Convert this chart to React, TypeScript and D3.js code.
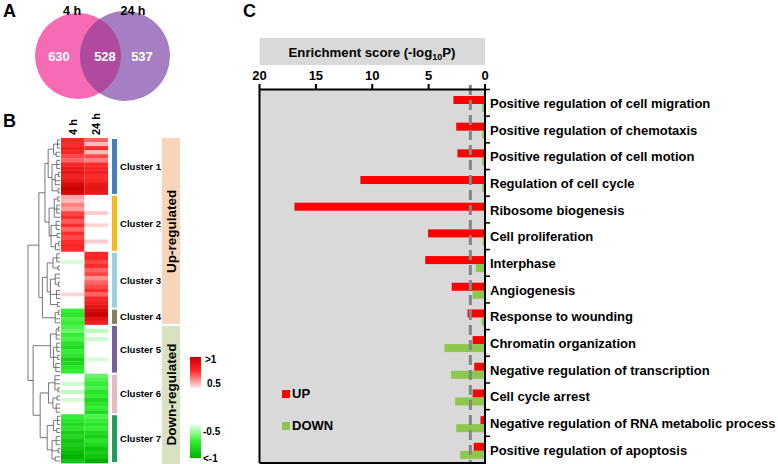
import React from 'react';
import * as d3 from 'd3';

// ---- data ----
const vennSets = ['4 h', '24 h'];
const vennCounts = [630, 528, 537]; // only 4h, both, only 24h

const timepoints = ['4 h', '24 h'];
const clusterNames = ['Cluster 1', 'Cluster 2', 'Cluster 3', 'Cluster 4', 'Cluster 5', 'Cluster 6', 'Cluster 7'];
const clusterColors = ['#4a7dbd', '#f6b91a', '#9fd0e0', '#8a7f5c', '#7b5e9e', '#e5b9bf', '#1e9e5c'];

// log2 fold change per heatmap row, one array per cluster
const h4 = [
  [0.85, 0.8, 0.9, 0.85, 0.75, 0.7, 0.85, 0.95, 1.0, 0.9, 0.95, 1.1, 1.2, 1.1],
  [0.58, 0.55, 0.65, 0.6, 0.75, 0.8, 0.72, 0.8, 0.7, 0.8, 0.75, 0.8, 0.85, 0.8],
  [0, 0, -0.5, 0, 0, 0, 0, 0, 0, 0, 0.5, 0, 0, 0],
  [-0.8, -0.85, -0.75, -0.8],
  [-0.75, -0.7, -0.8, -0.75, -0.85, -0.9, -0.8, -0.85, -0.95, -0.9, -0.85, -0.8],
  [0, 0, -0.52, 0, -0.55, 0, -0.5, 0, 0, 0],
  [-0.8, -0.85, -0.9, -0.85, -0.95, -0.9, -1.0, -0.95, -1.0, -1.05, -1.1, -1.0],
];
const h24 = [
  [0.7, 0.55, 0.8, 0.55, 0.75, 0.65, 0.8, 0.85, 0.9, 0.8, 0.85, 0.95, 1.0, 0.95],
  [0, 0, 0, 0, 0.52, 0, 0, 0.5, 0, 0, 0, 0.52, 0, 0],
  [0.8, 0.85, 0.75, 0.8, 0.7, 0.75, 0.62, 0.7, 0.75, 0.8, 0.7, 0.85, 0.9, 1.0],
  [1.1, 1.2, 1.0, 0.9],
  [0, -0.55, 0, -0.52, 0, 0, 0, 0, -0.5, 0, 0, 0],
  [-0.7, -0.75, -0.8, -0.75, -0.85, -0.8, -0.9, -0.85, -0.8, -0.9],
  [-0.75, -0.8, -0.85, -0.8, -0.9, -0.95, -0.85, -0.9, -1.0, -0.95, -1.0, -1.1],
];

// dendrogram, "(height child child ...)", x = one row
const clusterTrees = [
  '(0.37 (0.2 (0.08 x x x) (0.12 x x)) (0.25 (0.1 x x x) (0.15 (0.05 x x) x x) (0.06 x x)))',
  '(0.34 (0.18 (0.07 x x) (0.1 x x x) x) (0.28 (0.12 x x x) (0.09 x x) (0.14 (0.04 x x) x)))',
  '(0.4 (0.22 (0.1 x x x) (0.06 x x)) (0.3 (0.15 x x (0.05 x x)) (0.11 x x x) (0.08 x x)))',
  '(0.15 (0.05 x x) x x)',
  '(0.3 (0.12 (0.05 x x) x x) (0.2 (0.1 x x x) (0.07 x x) (0.13 x x x)))',
  '(0.36 (0.16 x x x (0.06 x x)) (0.22 (0.09 x x) (0.12 x x x)))',
  '(0.4 (0.2 (0.08 x x x) (0.1 x x)) (0.25 (0.12 x x x) (0.06 x x) (0.15 x x)))',
];
const topTree = '(1.0 (0.66 (0.47 C1 C2) (0.55 C3 C4)) (0.84 C5 (0.62 C6 C7)))';

const goTerms = [
  'Positive regulation of cell migration',
  'Positive regulation of chemotaxis',
  'Positive regulation of cell motion',
  'Regulation of cell cycle',
  'Ribosome biogenesis',
  'Cell proliferation',
  'Interphase',
  'Angiogenesis',
  'Response to wounding',
  'Chromatin organization',
  'Negative regulation of transcription',
  'Cell cycle arrest',
  'Negative regulation of RNA metabolic process',
  'Positive regulation of apoptosis',
];
const upScores = [2.8, 2.55, 2.45, 11.05, 16.9, 5.05, 5.3, 2.95, 1.55, 1.1, 0.95, 1.1, 0.4, 1.0];
const downScores = [0.25, 0.25, 0.25, 0.25, 0.1, 0.2, 0.82, 1.1, 0.3, 3.6, 3.0, 2.65, 2.55, 2.2];
const xTicks = [20, 15, 10, 5, 0];
const pCutoff = 1.3;

const FONT = '"Liberation Sans", Arial, Helvetica, sans-serif';
const UP = '#ff0000';
const DOWN = '#8cc84b';

type TNode = { h: number; leaf?: number; children?: TNode[] };

function parseTree(s: string): TNode {
  const toks = s.match(/\(|\)|[^\s()]+/g) || [];
  let i = 0;
  let leafIdx = 0;
  function read(): TNode {
    const t = toks[i++];
    if (t === '(') {
      const h = +toks[i++];
      const children: TNode[] = [];
      while (toks[i] !== ')') children.push(read());
      i++;
      return { h, children };
    }
    return { h: 0, leaf: leafIdx++ };
  }
  return read();
}

export default function App() {
  // ---- Panel B scales ----
  const counts = h4.map(c => c.length);
  const nRows = d3.sum(counts);
  const starts = counts.map((_, i) => d3.sum(counts.slice(0, i)));
  const rowY = d3.scaleBand<number>().domain(d3.range(nRows)).range([138, 463]);
  const colX = d3.scaleBand<string>().domain(timepoints).range([61, 108]);
  const redC = d3.scaleLinear<string>().domain([0.5, 0.8, 1.2]).range(['#ffd6d6', '#ff2a2a', '#c80000']).clamp(true);
  const grnC = d3.scaleLinear<string>().domain([-0.5, -0.8, -1.1]).range(['#d6ffd6', '#33ee33', '#00b000']).clamp(true);
  const color = (v: number) => (v >= 0.5 ? redC(v) : v <= -0.5 ? grnC(v) : '#ffffff');
  const rows4 = h4.flat();
  const rows24 = h24.flat();

  const treeStr = topTree.replace(/C(\d)/g, (_, k) => clusterTrees[+k - 1]);
  const root = d3.hierarchy<TNode>(parseTree(treeStr), d => d.children);
  const hx = d3.scaleLinear().domain([0, 1]).range([60, 28]);
  const pos = new Map<any, { x: number; y: number }>();
  root.eachAfter(n => {
    if (n.children) {
      const ys = n.children.map(c => pos.get(c)!.y);
      pos.set(n, { x: hx(n.data.h), y: (ys[0] + ys[ys.length - 1]) / 2 });
    } else {
      pos.set(n, { x: hx(0), y: rowY(n.data.leaf!)! + rowY.bandwidth() / 2 });
    }
  });
  const links: string[] = [];
  root.each(n => {
    if (!n.children) return;
    const p = pos.get(n)!;
    const ys = n.children.map(c => pos.get(c)!.y);
    const path = d3.path();
    path.moveTo(p.x, ys[0]);
    path.lineTo(p.x, ys[ys.length - 1]);
    n.children.forEach(c => {
      const q = pos.get(c)!;
      path.moveTo(p.x, q.y);
      path.lineTo(q.x, q.y);
    });
    links.push(path.toString());
  });

  // ---- Panel C scales ----
  const x = d3.scaleLinear().domain([20, 0]).range([259.5, 485]);
  const y = d3.scaleBand<string>().domain(goTerms).range([89.5, 463]);
  const bw = y.bandwidth();

  const upEnd = starts[4];

  return (
    <svg width={778} height={464} style={{ position: 'absolute', left: 0, top: 0, background: '#fff' }} fontFamily={FONT}>
      <defs>
        <clipPath id="venn-left">
          <circle cx={78} cy={56} r={43} />
        </clipPath>
        <linearGradient id="gRed" x1="0" y1="0" x2="0" y2="1">
          <stop offset="0" stopColor="#cc0000" />
          <stop offset="0.45" stopColor="#ff2a2a" />
          <stop offset="1" stopColor="#ffeaea" />
        </linearGradient>
        <linearGradient id="gGrn" x1="0" y1="0" x2="0" y2="1">
          <stop offset="0" stopColor="#e6ffe6" />
          <stop offset="0.5" stopColor="#33ee33" />
          <stop offset="1" stopColor="#00b000" />
        </linearGradient>
      </defs>

      {/* Panel A */}
      <text x={3} y={17} fontSize={18} fontWeight="bold">A</text>
      <circle cx={78} cy={56} r={43} fill="#f76bb4" />
      <circle cx={125} cy={56} r={45} fill="#a47fc1" />
      <circle cx={125} cy={56} r={45} fill="#b04a9f" clipPath="url(#venn-left)" />
      <text x={72} y={15} fontSize={12.5} fontWeight="bold" textAnchor="middle">{vennSets[0]}</text>
      <text x={133} y={15} fontSize={12.5} fontWeight="bold" textAnchor="middle">{vennSets[1]}</text>
      {[59, 105, 142].map((cx, i) => (
        <text key={i} x={cx} y={61} fontSize={13} fontWeight="bold" fill="#fff" textAnchor="middle">{vennCounts[i]}</text>
      ))}

      {/* Panel B */}
      <text x={3} y={127} fontSize={18} fontWeight="bold">B</text>
      {timepoints.map(t => (
        <text key={t} transform={`translate(${colX(t)! + colX.bandwidth() / 2 + 4},135) rotate(-90)`} fontSize={11} fontWeight="bold">{t}</text>
      ))}
      {d3.range(nRows).map(i => (
        <g key={i}>
          <rect x={colX('4 h')} y={rowY(i)} width={colX.bandwidth()} height={rowY.bandwidth() + 0.3} fill={color(rows4[i])} />
          <rect x={colX('24 h')} y={rowY(i)} width={colX.bandwidth()} height={rowY.bandwidth() + 0.3} fill={color(rows24[i])} />
        </g>
      ))}
      <g fill="none" stroke="#555" strokeWidth={0.8}>
        {links.map((d, i) => <path key={i} d={d} />)}
      </g>
      {clusterNames.map((c, i) => {
        const y0 = rowY(starts[i])! + 1;
        const y1 = rowY(starts[i] + counts[i] - 1)! + rowY.bandwidth() - 1;
        return (
          <g key={c}>
            <rect x={112} y={y0} width={5} height={y1 - y0} fill={clusterColors[i]} />
            <text x={120} y={(y0 + y1) / 2 + 3.5} fontSize={9.6} fontWeight="bold">{c}</text>
          </g>
        );
      })}
      <rect x={162} y={138} width={18} height={rowY(upEnd)! - 138 - 1} fill="#f8d5b8" />
      <rect x={162} y={rowY(upEnd)! + 1} width={18} height={463 - rowY(upEnd)!} fill="#d6e2c1" />
      <text transform={`translate(176,${(138 + rowY(upEnd)!) / 2}) rotate(-90)`} fontSize={13.5} fontWeight="bold" textAnchor="middle">Up-regulated</text>
      <text transform={`translate(176,${(rowY(upEnd)! + 464) / 2}) rotate(-90)`} fontSize={13.5} fontWeight="bold" textAnchor="middle">Down-regulated</text>
      <rect x={190} y={357} width={11} height={31} fill="url(#gRed)" />
      <rect x={190} y={425} width={11} height={33} fill="url(#gGrn)" />
      <g fontSize={10} fontWeight="bold">
        <text x={205} y={363}>&gt;1</text>
        <text x={207} y={387}>0.5</text>
        <text x={203} y={435}>-0.5</text>
        <text x={203} y={462}>&lt;-1</text>
      </g>

      {/* Panel C */}
      <text x={243} y={17} fontSize={18} fontWeight="bold">C</text>
      <rect x={259.5} y={38} width={225.5} height={27} fill="#d9d9d9" />
      <text x={372} y={57} fontSize={13.2} fontWeight="bold" textAnchor="middle">
        Enrichment score (-log<tspan fontSize={9} dy={3}>10</tspan><tspan dy={-3}>P)</tspan>
      </text>
      <rect x={259.5} y={89.5} width={225.5} height={373.5} fill="#d9d9d9" />
      {goTerms.map((t, i) => (
        <g key={t}>
          <rect x={x(upScores[i])} y={y(t)! + 6.5} width={x(0) - x(upScores[i])} height={8} fill={UP} />
          <rect x={x(downScores[i])} y={y(t)! + 14.5} width={x(0) - x(downScores[i])} height={8} fill={DOWN} />
          <text x={490} y={y(t)! + bw / 2 + 5} fontSize={13} fontWeight="bold">{t}</text>
        </g>
      ))}
      <line x1={x(pCutoff)} x2={x(pCutoff)} y1={85} y2={463} stroke="#858585" strokeWidth={3} strokeDasharray="10,5" />
      <g stroke="#000" strokeWidth={2} fill="none">
        <line x1={259.5} x2={486} y1={89.5} y2={89.5} />
        <line x1={259.5} x2={259.5} y1={89.5} y2={463} />
        <line x1={259.5} x2={486} y1={463} y2={463} />
        <line x1={485} x2={485} y1={89.5} y2={463} />
        {xTicks.map(t => <line key={t} x1={x(t)} x2={x(t)} y1={89.5} y2={84} />)}
        {goTerms.map(t => <line key={t} x1={485} x2={490} y1={y(t)!} y2={y(t)!} strokeWidth={1.5} />)}
      </g>
      {xTicks.map(t => (
        <text key={t} x={x(t)} y={80} fontSize={13} fontWeight="bold" textAnchor="middle">{t}</text>
      ))}
      <rect x={282} y={390} width={8} height={8} fill={UP} />
      <text x={292} y={398} fontSize={13} fontWeight="bold">UP</text>
      <rect x={282} y={422} width={8} height={8} fill={DOWN} />
      <text x={292} y={430} fontSize={13} fontWeight="bold">DOWN</text>
    </svg>
  );
}
